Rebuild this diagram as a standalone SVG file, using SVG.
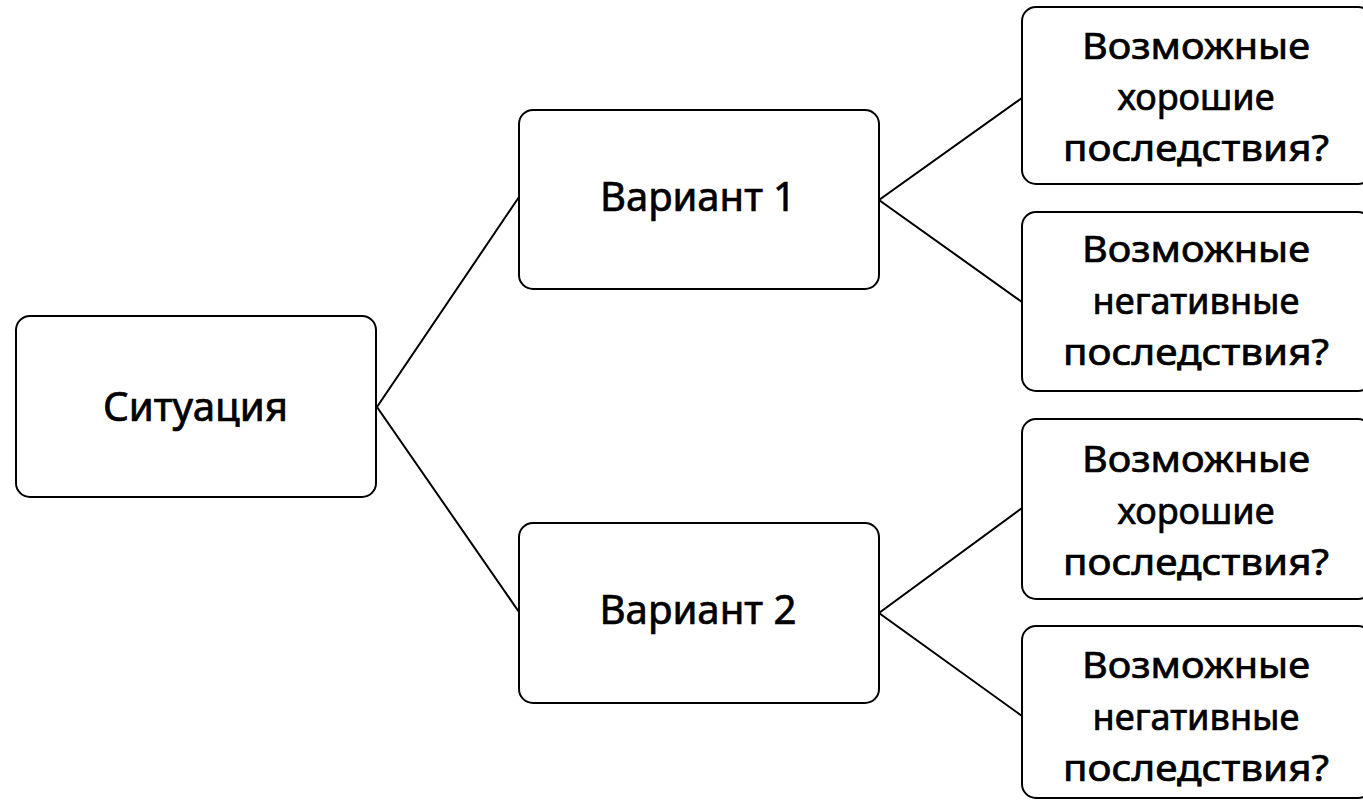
<svg xmlns="http://www.w3.org/2000/svg" width="1363" height="800" viewBox="0 0 1363 800">
<style>
.box{fill:#fff;stroke:#000;stroke-width:2}
.ln{stroke:#000;stroke-width:2;fill:none}
.t{font-family:"Noto Sans","Open Sans","DejaVu Sans",sans-serif;fill:#000;stroke:#000;stroke-width:0.7;text-anchor:middle}
.big{font-size:40px}
.sm{font-size:37px}
</style>
<rect width="1363" height="800" fill="#fff"/>
<g id="connectors">
<polyline class="ln" points="519,197 377,407 519,612"/>
<polyline class="ln" points="1022,98 879,200 1022,302"/>
<polyline class="ln" points="1022,508 879,613 1022,716"/>
</g>
<g id="situation">
<rect class="box" x="16" y="316" width="360" height="181" rx="14"/>
<text class="t big" x="195.5" y="421" textLength="185" lengthAdjust="spacingAndGlyphs">Ситуация</text>
</g>
<g id="variant1">
<rect class="box" x="519" y="110" width="360" height="179" rx="14"/>
<text class="t big" x="698" y="211" textLength="196" lengthAdjust="spacingAndGlyphs">Вариант 1</text>
</g>
<g id="variant2">
<rect class="box" x="519" y="523" width="360" height="180" rx="14"/>
<text class="t big" x="698" y="624" textLength="197" lengthAdjust="spacingAndGlyphs">Вариант 2</text>
</g>
<g id="good1">
<rect class="box" x="1022" y="7" width="350" height="177" rx="14"/>
<text class="t sm" x="1196" y="59" textLength="228" lengthAdjust="spacingAndGlyphs">Возможные</text>
<text class="t sm" x="1196" y="110" textLength="157" lengthAdjust="spacingAndGlyphs">хорошие</text>
<text class="t sm" x="1196" y="161" textLength="266" lengthAdjust="spacingAndGlyphs">последствия?</text>
</g>
<g id="bad1">
<rect class="box" x="1022" y="212" width="350" height="179" rx="14"/>
<text class="t sm" x="1196" y="262" textLength="228" lengthAdjust="spacingAndGlyphs">Возможные</text>
<text class="t sm" x="1196" y="314" textLength="207" lengthAdjust="spacingAndGlyphs">негативные</text>
<text class="t sm" x="1196" y="365" textLength="266" lengthAdjust="spacingAndGlyphs">последствия?</text>
</g>
<g id="good2">
<rect class="box" x="1022" y="419" width="350" height="180" rx="14"/>
<text class="t sm" x="1196" y="472" textLength="228" lengthAdjust="spacingAndGlyphs">Возможные</text>
<text class="t sm" x="1196" y="524" textLength="157" lengthAdjust="spacingAndGlyphs">хорошие</text>
<text class="t sm" x="1196" y="575" textLength="266" lengthAdjust="spacingAndGlyphs">последствия?</text>
</g>
<g id="bad2">
<rect class="box" x="1022" y="626" width="350" height="172" rx="14"/>
<text class="t sm" x="1196" y="678" textLength="228" lengthAdjust="spacingAndGlyphs">Возможные</text>
<text class="t sm" x="1196" y="730" textLength="207" lengthAdjust="spacingAndGlyphs">негативные</text>
<text class="t sm" x="1196" y="781" textLength="266" lengthAdjust="spacingAndGlyphs">последствия?</text>
</g>
</svg>
